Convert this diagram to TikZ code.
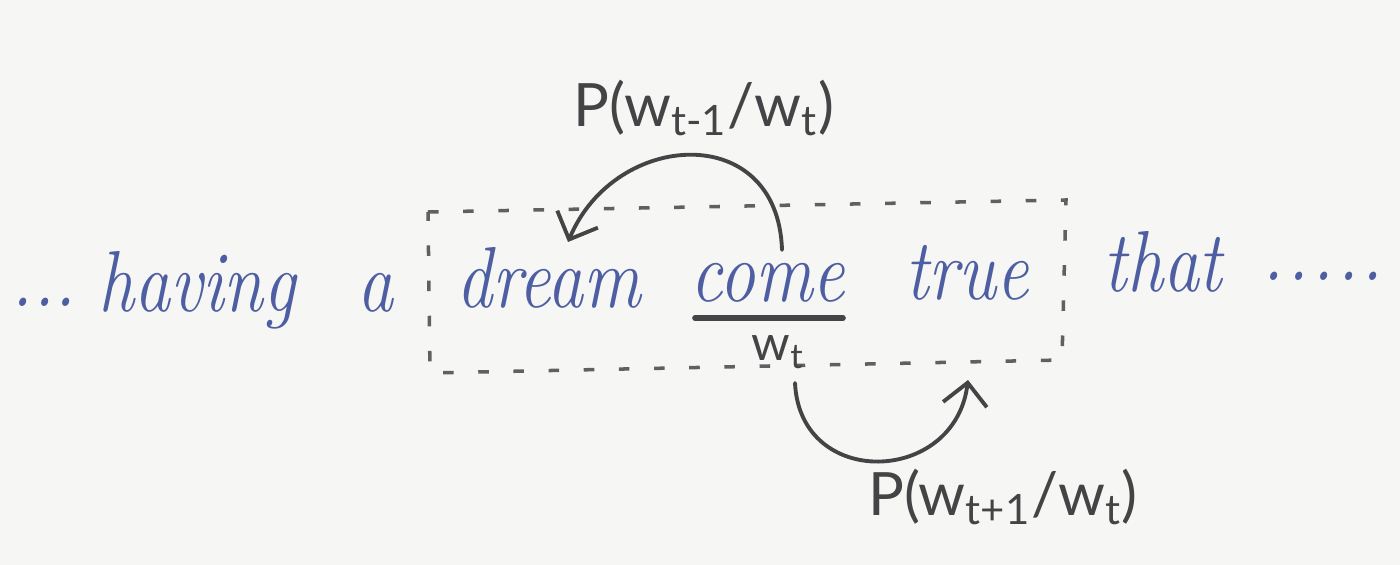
\documentclass[tikz,border=0pt]{standalone}
\usepackage{fontspec}
\usetikzlibrary{arrows.meta}
\newfontfamily\labfont{Lato}
\definecolor{ink}{RGB}{78,94,162}
\definecolor{pencil}{RGB}{68,68,70}
\definecolor{paper}{RGB}{246,246,244}
\newcommand{\hw}[1]{\scalebox{0.93}[1.12]{#1}}
\begin{document}
\begin{tikzpicture}[x=0.01cm,y=-0.01cm,
  word/.style={anchor=base,inner sep=0pt,text=ink,font=\fontsize{22}{25}\selectfont\itshape},
  lab/.style={inner sep=0pt,text=pencil,font=\fontsize{17}{20}\selectfont\labfont},
  pen/.style={draw=pencil,line width=1.1pt,line cap=round},
  curvearrow/.style={pen,-{Straight Barb[length=2.2mm,width=4.4mm,line width=1.1pt]}},
  frame/.style={draw=pencil!85,line width=1pt,dash pattern=on 3pt off 7pt}]

\fill[paper] (0,0) rectangle (1400,565);
\useasboundingbox (0,0) rectangle (1400,565);

% words
\node[word] (ldots) at (44,307) {\hw{...}};
\node[word] (having) at (197,312) {\hw{having}};
\node[word] (a) at (375,312) {\hw{a}};
\node[word] (dream) at (549,308) {\hw{dream}};
\node[word] (come) at (768,302) {\hw{come}};
\node[word] (true) at (967,300) {\hw{true}};
\node[word] (that) at (1163,292) {\hw{that}};
\node[word] (rdots) at (1323,281) {\hw{.\kern1pt.\kern1pt.\kern1pt.\kern1pt.}};

% dashed window
\coordinate (tl) at (428,212);
\coordinate (tr) at (1066,200);
\coordinate (br) at (1062,360);
\coordinate (bl) at (430,373);
\draw[frame] (tl) -- (tr) -- (br) -- (bl) -- cycle;

% underline and w_t
\coordinate (ul1) at (695,318);
\coordinate (ul2) at (843,318);
\draw[pen,line width=1.6pt] (ul1) -- (ul2);
\node[lab,font=\fontsize{14}{17}\selectfont\labfont,anchor=base] (wt) at (778,361) {w\textsubscript{t}};

% arrows
\coordinate (ts) at (782,250);
\coordinate (te) at (568,242);
\draw[curvearrow] (ts) .. controls (778,120) and (615,130) .. (te);
\coordinate (bs) at (795,383);
\coordinate (be) at (968,380);
\draw[curvearrow] (bs) .. controls (800,490) and (955,485) .. (be);

% labels
\node[lab] (lprev) at (704,108) {P(w\textsubscript{t-1}/w\textsubscript{t})};
\node[lab] (lnext) at (1003,497) {P(w\textsubscript{t+1}/w\textsubscript{t})};
\end{tikzpicture}
\end{document}
